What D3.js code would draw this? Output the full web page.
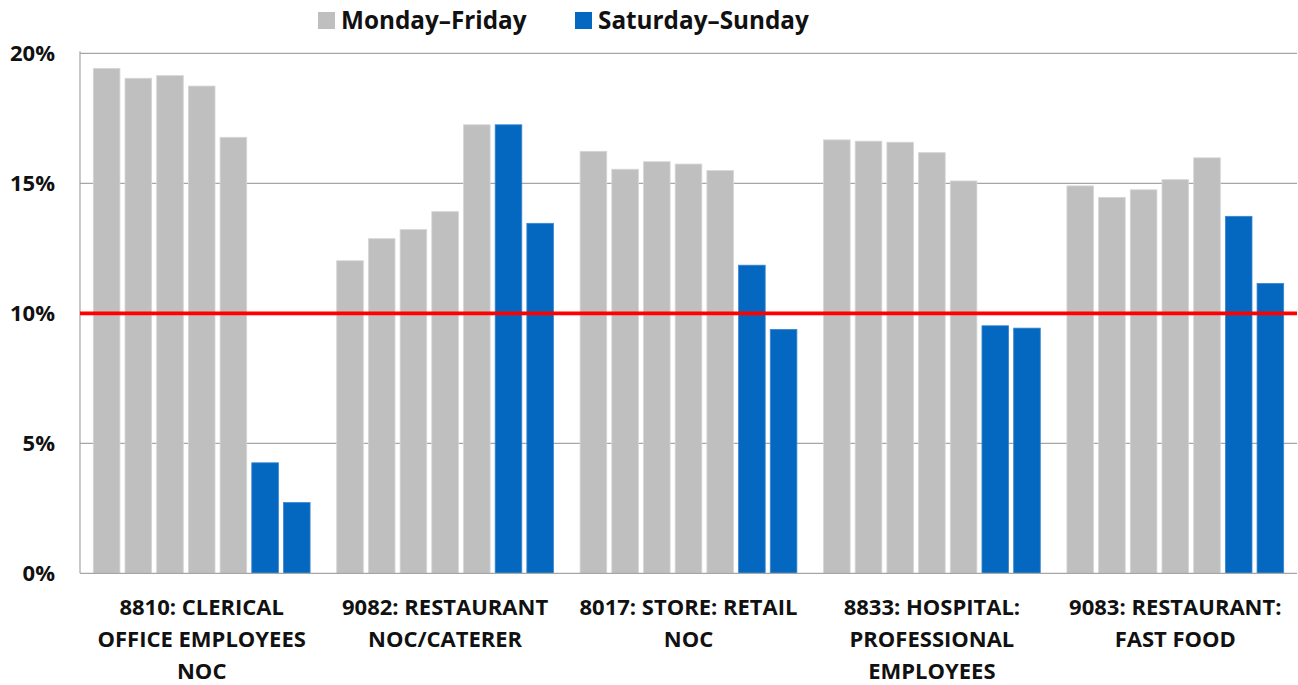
<!DOCTYPE html>
<html lang="en">
<head>
<meta charset="utf-8">
<title>Weekday vs weekend share by class code</title>
<script src="https://cdn.jsdelivr.net/npm/d3@7"></script>
<style>
  body { margin: 0; background: #fff; }
  svg text { font-family: "Open Sans", Lato, sans-serif; font-weight: bold; fill: #111; }
</style>
</head>
<body>
<svg id="chart" width="1298" height="685"></svg>
<script>
// categories (multi-line labels)
var categories = [
  ["8810: CLERICAL", "OFFICE EMPLOYEES", "NOC"],
  ["9082: RESTAURANT", "NOC/CATERER"],
  ["8017: STORE: RETAIL", "NOC"],
  ["8833: HOSPITAL:", "PROFESSIONAL", "EMPLOYEES"],
  ["9083: RESTAURANT:", "FAST FOOD"]
];
// 7 bars per category: 5 weekday, 2 weekend (percent)
var weekday = [
  [19.42, 19.04, 19.14, 18.74, 16.77],
  [12.02, 12.87, 13.22, 13.91, 17.25],
  [16.23, 15.54, 15.83, 15.74, 15.49],
  [16.67, 16.62, 16.58, 16.18, 15.09],
  [14.90, 14.46, 14.75, 15.14, 15.98]
];
var weekend = [
  [4.25, 2.72],
  [17.25, 13.46],
  [11.85, 9.38],
  [9.52, 9.43],
  [13.73, 11.15]
];
var yTicks = [0, 5, 10, 15, 20];
var refLine = 10;
var seriesNames = ["Monday\u2013Friday", "Saturday\u2013Sunday"];
var colors = { weekday: "#bfbfbf", weekend: "#0568c0" };

var svg = d3.select("#chart");
var plotLeft = 80, plotRight = 1297, plotTop = 53.3, plotBottom = 573.3;

var x0 = d3.scaleBand()
    .domain(d3.range(categories.length))
    .range([plotLeft, plotRight])
    .paddingInner(0)
    .paddingOuter(0);

var x1 = d3.scaleBand()
    .domain(d3.range(7))
    .range([0, x0.bandwidth()])
    .paddingInner(0.16)
    .paddingOuter(0.42);

var y = d3.scaleLinear().domain([0, 20]).range([plotBottom, plotTop]);

// gridlines
svg.append("g").selectAll("line")
    .data(yTicks.filter(function (d) { return d > 0; }))
    .enter().append("line")
    .attr("x1", plotLeft).attr("x2", plotRight)
    .attr("y1", function (d) { return y(d); })
    .attr("y2", function (d) { return y(d); })
    .attr("stroke", "#a6a6a6")
    .attr("stroke-width", 1.2);

// y labels
svg.append("g").selectAll("text")
    .data(yTicks)
    .enter().append("text")
    .attr("x", 55)
    .attr("y", function (d) { return y(d) + 7.5; })
    .attr("text-anchor", "end")
    .style("font-size", "22px")
    .text(function (d) { return d + "%"; });

// bars
var rows = [];
categories.forEach(function (c, i) {
    weekday[i].forEach(function (v, j) { rows.push({ cat: i, idx: j, v: v, type: "weekday" }); });
    weekend[i].forEach(function (v, j) { rows.push({ cat: i, idx: 5 + j, v: v, type: "weekend" }); });
});

svg.append("g").selectAll("rect")
    .data(rows)
    .enter().append("rect")
    .attr("x", function (d) { return x0(d.cat) + x1(d.idx); })
    .attr("width", x1.bandwidth())
    .attr("y", function (d) { return y(d.v); })
    .attr("height", function (d) { return plotBottom - y(d.v); })
    .attr("fill", function (d) { return colors[d.type]; })
    .attr("stroke", function (d) { return d.type === "weekday" ? "#d6d6d6" : "#3a86d0"; })
    .attr("stroke-width", 0.8);

// axes lines
svg.append("line")
    .attr("x1", plotLeft).attr("x2", plotLeft).attr("y1", plotTop - 2).attr("y2", plotBottom)
    .attr("stroke", "#a6a6a6").attr("stroke-width", 1.2);
svg.append("line")
    .attr("x1", plotLeft).attr("x2", plotRight).attr("y1", plotBottom).attr("y2", plotBottom)
    .attr("stroke", "#a6a6a6").attr("stroke-width", 1.2);

// red reference line
svg.append("line")
    .attr("x1", plotLeft).attr("x2", plotRight)
    .attr("y1", y(refLine)).attr("y2", y(refLine))
    .attr("stroke", "#ff0000")
    .attr("stroke-width", 3.8);

// category labels
var lab = svg.append("g").selectAll("text")
    .data(categories)
    .enter().append("text")
    .attr("text-anchor", "middle")
    .style("font-size", "22px");
lab.selectAll("tspan")
    .data(function (d, i) { return d.map(function (t) { return { t: t, i: i }; }); })
    .enter().append("tspan")
    .attr("x", function (d) { return x0(d.i) + x0.bandwidth() / 2; })
    .attr("y", function (d, k) { return 615 + k * 32; })
    .text(function (d) { return d.t; });

// legend
var legend = [
    { name: seriesNames[0], color: colors.weekday, x: 318 },
    { name: seriesNames[1], color: colors.weekend, x: 575 }
];
var lg = svg.append("g").selectAll("g")
    .data(legend)
    .enter().append("g")
    .attr("transform", function (d) { return "translate(" + d.x + ",0)"; });
lg.append("rect")
    .attr("x", 0).attr("y", 12)
    .attr("width", 17).attr("height", 17)
    .attr("fill", function (d) { return d.color; });
lg.append("text")
    .attr("x", 23).attr("y", 29)
    .style("font-size", "24.3px")
    .text(function (d) { return d.name; });
</script>
</body>
</html>
